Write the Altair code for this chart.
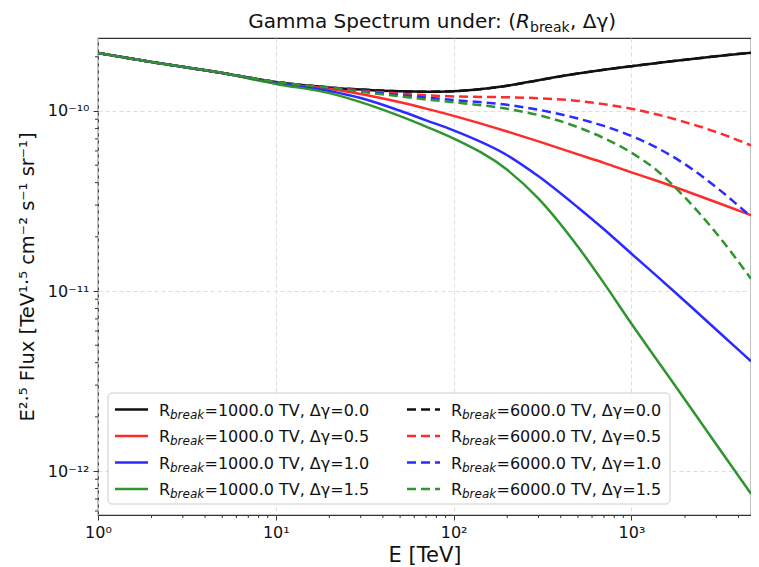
import altair as alt
import pandas as pd

# ---------------- data ----------------
E_TEV = [1, 2, 5, 10, 20, 30, 50, 70, 100, 200, 300, 500, 700, 1000, 1400, 2000, 3000, 4700]

# log10 of E^2.5 flux [TeV^1.5 cm^-2 s^-1 sr^-1]
LOGF_R1000_DG00 = [-9.678, -9.728, -9.789, -9.839, -9.869, -9.881, -9.891, -9.893, -9.890, -9.860,
                   -9.829, -9.792, -9.771, -9.751, -9.733, -9.716, -9.696, -9.676]
LOGF_R1000_DG05 = [-9.678, -9.728, -9.789, -9.844, -9.877, -9.906, -9.952, -9.987, -10.027, -10.114,
                   -10.169, -10.241, -10.288, -10.341, -10.389, -10.443, -10.507, -10.579]
LOGF_R1000_DG10 = [-9.678, -9.728, -9.789, -9.844, -9.889, -9.928, -9.999, -10.052, -10.108, -10.246,
                   -10.363, -10.536, -10.657, -10.793, -10.920, -11.057, -11.215, -11.390]
LOGF_R1000_DG15 = [-9.678, -9.728, -9.789, -9.850, -9.901, -9.951, -10.029, -10.087, -10.153, -10.327,
                   -10.487, -10.754, -10.956, -11.182, -11.387, -11.604, -11.853, -12.126]
LOGF_R6000_DG00 = [-9.678, -9.728, -9.789, -9.839, -9.869, -9.881, -9.891, -9.893, -9.890, -9.860,
                   -9.829, -9.792, -9.771, -9.751, -9.733, -9.716, -9.696, -9.676]
LOGF_R6000_DG05 = [-9.678, -9.728, -9.789, -9.839, -9.870, -9.886, -9.904, -9.913, -9.919, -9.924,
                   -9.929, -9.944, -9.962, -9.988, -10.020, -10.062, -10.117, -10.191]
LOGF_R6000_DG10 = [-9.678, -9.728, -9.789, -9.839, -9.871, -9.890, -9.912, -9.925, -9.939, -9.966,
                   -9.993, -10.042, -10.083, -10.139, -10.206, -10.296, -10.424, -10.587]
LOGF_R6000_DG15 = [-9.678, -9.728, -9.789, -9.839, -9.871, -9.893, -9.919, -9.936, -9.952, -9.988,
                   -10.023, -10.090, -10.151, -10.232, -10.333, -10.481, -10.679, -10.932]

R_BREAKS = ["1000.0", "6000.0"]
DELTA_GAMMAS = ["0.0", "0.5", "1.0", "1.5"]
SERIES = [
    ("1000.0", "0.0", LOGF_R1000_DG00),
    ("1000.0", "0.5", LOGF_R1000_DG05),
    ("1000.0", "1.0", LOGF_R1000_DG10),
    ("1000.0", "1.5", LOGF_R1000_DG15),
    ("6000.0", "0.0", LOGF_R6000_DG00),
    ("6000.0", "0.5", LOGF_R6000_DG05),
    ("6000.0", "1.0", LOGF_R6000_DG10),
    ("6000.0", "1.5", LOGF_R6000_DG15),
]

X_MAJOR = [1, 10, 100, 1000]
X_MINOR = [2, 3, 4, 5, 6, 7, 8, 9, 20, 30, 40, 50, 60, 70, 80, 90,
           200, 300, 400, 500, 600, 700, 800, 900, 2000, 3000, 4000]
Y_MAJOR = [1e-12, 1e-11, 1e-10]
Y_MINOR = [6e-13, 7e-13, 8e-13, 9e-13,
           2e-12, 3e-12, 4e-12, 5e-12, 6e-12, 7e-12, 8e-12, 9e-12,
           2e-11, 3e-11, 4e-11, 5e-11, 6e-11, 7e-11, 8e-11, 9e-11, 2e-10]

# ---------------- styling ----------------
COLORS = {"0.0": "#111111", "0.5": "#ff2b2b", "1.0": "#2b2bff", "1.5": "#2f962f"}
DASH = [9, 5]
FONT = "DejaVu Sans"
W, H = 653, 477
X_DOMAIN = [1, 4700]
Y_DOMAIN = [5.70e-13, 2.543e-10]

xscale = alt.Scale(type="log", domain=X_DOMAIN, nice=False)
yscale = alt.Scale(type="log", domain=Y_DOMAIN, nice=False)

x_axis = alt.Axis(
    values=X_MAJOR, title="E [TeV]", grid=True, gridDash=[4, 3], gridColor="#d9d9d9",
    gridWidth=0.9, domain=False, tickSize=5, tickColor="#333333", tickWidth=1,
    labelFontSize=16, labelFont=FONT, labelColor="#111111", labelPadding=4, labelFlush=False,
    titleFontSize=21, titleFont=FONT, titleFontWeight="normal", titleColor="#111111", titlePadding=4,
    labelExpr="datum.value == 1 ? '10⁰' : (datum.value == 10 ? '10¹' : (datum.value == 100 ? '10²' : '10³'))",
)
y_axis = alt.Axis(
    values=Y_MAJOR, title="E²·⁵ Flux [TeV¹·⁵ cm⁻² s⁻¹ sr⁻¹]", grid=True, gridDash=[4, 3],
    gridColor="#d9d9d9", gridWidth=0.9, domain=False, tickSize=5, tickColor="#333333", tickWidth=1,
    labelFontSize=16, labelFont=FONT, labelColor="#111111", labelPadding=4,
    titleFontSize=19.5, titleFont=FONT, titleFontWeight="normal", titleColor="#111111", titlePadding=10,
    labelExpr="datum.value < 5e-12 ? '10⁻¹²' : (datum.value < 5e-11 ? '10⁻¹¹' : '10⁻¹⁰')",
)

layers = []
for r, dg, logs in SERIES:
    df = pd.DataFrame({"E": E_TEV, "flux": [10.0 ** v for v in logs]})
    mk = dict(color=COLORS[dg], strokeWidth=2.5, interpolate="monotone", clip=True)
    if r == "6000.0":
        mk["strokeDash"] = DASH
    layers.append(
        alt.Chart(df).mark_line(**mk).encode(
            x=alt.X("E:Q", scale=xscale, axis=x_axis),
            y=alt.Y("flux:Q", scale=yscale, axis=y_axis),
        )
    )

# minor ticks (outward, like matplotlib); same axis definitions so the axes merge
layers.append(
    alt.Chart(pd.DataFrame({"E": X_MINOR})).mark_rule(color="#333333", strokeWidth=1).encode(
        x=alt.X("E:Q", scale=xscale, axis=x_axis), y=alt.value(H), y2=alt.value(H + 3)
    )
)
layers.append(
    alt.Chart(pd.DataFrame({"flux": Y_MINOR})).mark_rule(color="#333333", strokeWidth=1).encode(
        y=alt.Y("flux:Q", scale=yscale, axis=y_axis), x=alt.value(0), x2=alt.value(-3)
    )
)

one = pd.DataFrame({"a": [0]})

# legend box
layers.append(
    alt.Chart(one).mark_rect(fill="white", fillOpacity=0.85, stroke="#cccccc", strokeWidth=1,
                             cornerRadius=4).encode(
        x=alt.value(10), x2=alt.value(572), y=alt.value(355), y2=alt.value(466)
    )
)

LEG_ROW_CENTER = [371.5, 398, 424.5, 451]
LEG_LINE_X = [(17, 50), (309, 342)]
LEG_TEXT_X = [61, 353]
for ci, r in enumerate(R_BREAKS):
    for ri, dg in enumerate(DELTA_GAMMAS):
        yc = LEG_ROW_CENTER[ri]
        mk = dict(color=COLORS[dg], strokeWidth=2.5)
        if ci == 1:
            mk["strokeDash"] = DASH
        layers.append(
            alt.Chart(one).mark_rule(**mk).encode(
                x=alt.value(LEG_LINE_X[ci][0]), x2=alt.value(LEG_LINE_X[ci][1]), y=alt.value(yc)
            )
        )
        x0 = LEG_TEXT_X[ci]
        layers.append(
            alt.Chart(one).mark_text(font=FONT, fontSize=16, align="left", baseline="alphabetic",
                                     color="#111111").encode(
                x=alt.value(x0), y=alt.value(yc + 6), text=alt.value("R")
            )
        )
        layers.append(
            alt.Chart(one).mark_text(font=FONT, fontSize=12, fontStyle="italic", align="left",
                                     baseline="alphabetic", color="#111111").encode(
                x=alt.value(x0 + 11), y=alt.value(yc + 9), text=alt.value("break")
            )
        )
        layers.append(
            alt.Chart(one).mark_text(font=FONT, fontSize=16, align="left", baseline="alphabetic",
                                     color="#111111").encode(
                x=alt.value(x0 + 45.5), y=alt.value(yc + 6),
                text=alt.value(f"={r} TV, Δγ={dg}")
            )
        )

# title with subscript
TX = 418
layers.append(
    alt.Chart(one).mark_text(font=FONT, fontSize=20, align="right", baseline="alphabetic",
                             color="#111111").encode(
        x=alt.value(TX), y=alt.value(-10), text=alt.value("Gamma Spectrum under: (")
    )
)
layers.append(
    alt.Chart(one).mark_text(font=FONT, fontSize=20, fontStyle="italic", align="left",
                             baseline="alphabetic", color="#111111").encode(
        x=alt.value(TX), y=alt.value(-10), text=alt.value("R")
    )
)
layers.append(
    alt.Chart(one).mark_text(font=FONT, fontSize=14, align="left", baseline="alphabetic",
                             color="#111111").encode(
        x=alt.value(TX + 14), y=alt.value(-6), text=alt.value("break")
    )
)
layers.append(
    alt.Chart(one).mark_text(font=FONT, fontSize=20, align="left", baseline="alphabetic",
                             color="#111111").encode(
        x=alt.value(TX + 54), y=alt.value(-10), text=alt.value(", Δγ)")
    )
)

chart = (
    alt.layer(*layers)
    .properties(
        width=W, height=H,
        padding={"left": 90, "top": 30, "right": 0, "bottom": 50},
        autosize=alt.AutoSizeParams(type="none"),
    )
    .configure_view(stroke="#333333", strokeWidth=1.2)
)

chart.save("out.html", embed_options={"renderer": "svg", "actions": False})
